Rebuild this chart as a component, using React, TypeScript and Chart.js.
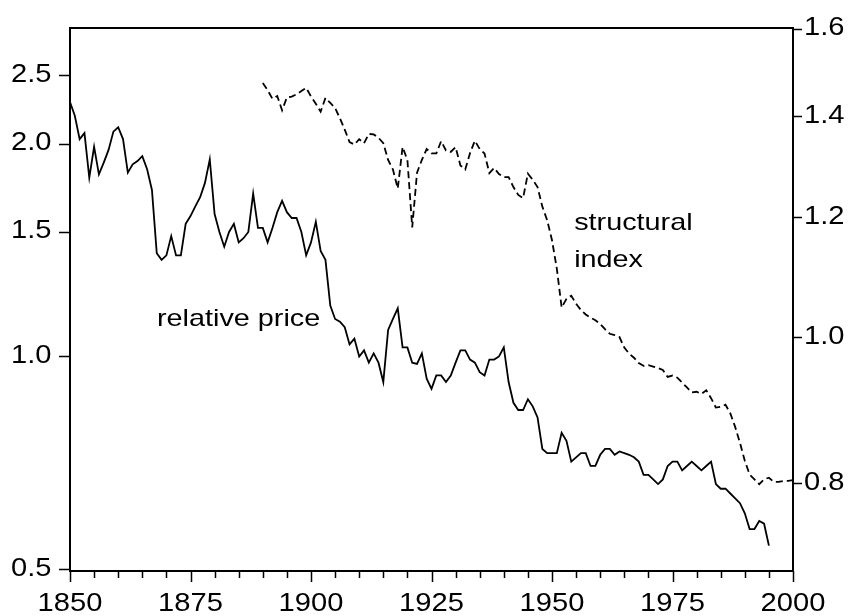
import React, { useEffect, useRef } from "react";
import { Chart, registerables } from "chart.js";

Chart.register(...registerables);

// ---- data ----
const priceStartYear = 1850;
const relativePrice = [
  2.29, 2.19, 2.03, 2.07, 1.79, 1.98, 1.81, 1.88, 1.96, 2.08, // 1850s
  2.11, 2.03, 1.82, 1.87, 1.89, 1.92, 1.84, 1.72, 1.40, 1.37, // 1860s
  1.39, 1.48, 1.39, 1.39, 1.54, 1.58, 1.63, 1.68, 1.76, 1.90, // 1870s
  1.59, 1.50, 1.43, 1.50, 1.54, 1.45, 1.47, 1.50, 1.70, 1.52, // 1880s
  1.52, 1.45, 1.52, 1.60, 1.66, 1.60, 1.57, 1.57, 1.50, 1.39, // 1890s
  1.45, 1.55, 1.41, 1.37, 1.18, 1.13, 1.12, 1.10, 1.04, 1.06, // 1900s
  1.00, 1.02, 0.98, 1.01, 0.98, 0.92, 1.09, 1.13, 1.17, 1.03, // 1910s
  1.03, 0.98, 0.976, 1.01, 0.93, 0.90, 0.94, 0.94, 0.92, 0.94, // 1920s
  0.98, 1.02, 1.02, 0.99, 0.98, 0.95, 0.94, 0.99, 0.99, 1.00, // 1930s
  1.03, 0.92, 0.86, 0.84, 0.84, 0.87, 0.85, 0.82, 0.74, 0.73, // 1940s
  0.73, 0.73, 0.78, 0.76, 0.71, 0.72, 0.73, 0.73, 0.70, 0.70, // 1950s
  0.726, 0.74, 0.74, 0.726, 0.734, 0.73, 0.726, 0.72, 0.71, 0.68, // 1960s
  0.68, 0.67, 0.66, 0.67, 0.70, 0.71, 0.71, 0.69, 0.70, 0.71, // 1970s
  0.70, 0.69, 0.70, 0.71, 0.66, 0.65, 0.65, 0.64, 0.63, 0.62, // 1980s
  0.60, 0.57, 0.57, 0.585, 0.58, 0.54, // 1990-1995
];

const indexStartYear = 1890;
const structuralIndex = [
  1.473, 1.457, 1.438, 1.444, 1.413, 1.441, 1.443, 1.448, 1.455, 1.462, // 1890s
  1.443, 1.427, 1.410, 1.440, 1.429, 1.418, 1.396, 1.372, 1.346, 1.341, // 1900s
  1.352, 1.344, 1.363, 1.362, 1.355, 1.344, 1.310, 1.291, 1.254, 1.336, // 1910s
  1.310, 1.182, 1.285, 1.310, 1.332, 1.323, 1.323, 1.348, 1.329, 1.326, // 1920s
  1.336, 1.299, 1.291, 1.324, 1.349, 1.332, 1.323, 1.284, 1.294, 1.282, // 1930s
  1.276, 1.276, 1.257, 1.242, 1.236, 1.283, 1.271, 1.257, 1.220, 1.195, // 1940s
  1.159, 1.110, 1.046, 1.060, 1.065, 1.052, 1.042, 1.035, 1.030, 1.026, // 1950s
  1.020, 1.012, 1.005, 1.003, 1.000, 0.984, 0.975, 0.969, 0.961, 0.957, // 1960s
  0.958, 0.956, 0.954, 0.951, 0.941, 0.943, 0.940, 0.933, 0.926, 0.919, // 1970s
  0.920, 0.917, 0.922, 0.911, 0.898, 0.899, 0.902, 0.890, 0.872, 0.851, // 1980s
  0.828, 0.811, 0.805, 0.799, 0.805, 0.807, 0.802, 0.802, 0.803, 0.803, // 1990s
  0.804, // 2000
];

const xMin = 1850;
const xMax = 2000;
const xLabelYears = [1850, 1875, 1900, 1925, 1950, 1975, 2000];
const xMinorStep = 5;
const leftTicks = [0.5, 1.0, 1.5, 2.0, 2.5];
const rightTicks = [0.8, 1.0, 1.2, 1.4, 1.6];
const leftRange = [0.4972, 2.915];
const rightRange = [0.7238, 1.6019];

const priceLabel = "relative price";
const indexLabelLines = ["structural", "index"];

const FONT = '"Liberation Sans", Arial, Helvetica, sans-serif';
const TICK_STRETCH = 1.12;
const NOTE_STRETCH = 1.2;

const framePlugin = {
  id: "frameAndTicks",
  afterDatasetsDraw(chart: any) {
    const { ctx, chartArea: a, scales } = chart;
    const sx = scales.x;
    const sl = scales.yLeft;
    const sr = scales.yRight;
    ctx.save();
    ctx.strokeStyle = "#000";
    ctx.lineWidth = 2;
    ctx.strokeRect(a.left, a.top, a.right - a.left, a.bottom - a.top);

    ctx.lineWidth = 1.5;
    ctx.beginPath();
    for (let yr = xMin; yr <= xMax; yr += xMinorStep) {
      const px = Math.round(sx.getPixelForValue(yr)) + 0.5;
      const len = xLabelYears.includes(yr) ? 11 : 7;
      ctx.moveTo(px, a.bottom);
      ctx.lineTo(px, a.bottom + len);
    }
    leftTicks.forEach((v) => {
      const py = Math.round(sl.getPixelForValue(v)) + 0.5;
      ctx.moveTo(a.left - 11, py);
      ctx.lineTo(a.left, py);
    });
    rightTicks.forEach((v) => {
      const py = Math.round(sr.getPixelForValue(v)) + 0.5;
      ctx.moveTo(a.right, py);
      ctx.lineTo(a.right + 9, py);
    });
    ctx.stroke();

    ctx.fillStyle = "#000";
    ctx.textBaseline = "alphabetic";
    const drawStretched = (t: string, x: number, y: number, k: number, align: string) => {
      ctx.save();
      ctx.translate(x, y);
      ctx.scale(k, 1);
      ctx.textAlign = align;
      ctx.fillText(t, 0, 0);
      ctx.restore();
    };

    // tick labels
    ctx.font = `26px ${FONT}`;
    xLabelYears.forEach((yr) => {
      drawStretched(String(yr), sx.getPixelForValue(yr), a.bottom + 40, TICK_STRETCH, "center");
    });
    leftTicks.forEach((v) => {
      drawStretched(v.toFixed(1), a.left - 18.5, sl.getPixelForValue(v) + 6.5, TICK_STRETCH, "right");
    });
    rightTicks.forEach((v) => {
      drawStretched(v.toFixed(1), a.right + 11, sr.getPixelForValue(v) + 6.5, TICK_STRETCH, "left");
    });

    // annotations
    ctx.font = `24px ${FONT}`;
    drawStretched(priceLabel, sx.getPixelForValue(1868.05), sl.getPixelForValue(1.104), NOTE_STRETCH, "left");
    drawStretched(indexLabelLines[0], sx.getPixelForValue(1954.6), sr.getPixelForValue(1.178), NOTE_STRETCH, "left");
    drawStretched(indexLabelLines[1], sx.getPixelForValue(1954.6), sr.getPixelForValue(1.113), NOTE_STRETCH, "left");
    ctx.restore();
  },
};

const zeroPad = (s: any) => {
  s.paddingTop = 0;
  s.paddingBottom = 0;
  s.paddingLeft = 0;
  s.paddingRight = 0;
};

export default function App() {
  const ref = useRef<HTMLCanvasElement | null>(null);

  useEffect(() => {
    if (!ref.current) return;
    const priceData = relativePrice.map((v, i) => ({ x: priceStartYear + i, y: v }));
    const indexData = structuralIndex.map((v, i) => ({ x: indexStartYear + i, y: v }));

    const chart = new Chart(ref.current, {
      type: "line",
      data: {
        datasets: [
          {
            label: "relative price",
            data: priceData,
            yAxisID: "yLeft",
            borderColor: "#000",
            borderWidth: 1.8,
            pointRadius: 0,
            tension: 0,
            fill: false,
          },
          {
            label: "structural index",
            data: indexData,
            yAxisID: "yRight",
            borderColor: "#000",
            borderWidth: 1.8,
            borderDash: [7, 4],
            pointRadius: 0,
            tension: 0,
            fill: false,
          },
        ],
      },
      options: {
        animation: false,
        responsive: false,
        maintainAspectRatio: false,
        parsing: false as any,
        layout: { padding: { top: 28, left: 0, right: 0, bottom: 0 } },
        plugins: {
          legend: { display: false },
          tooltip: { enabled: false },
        },
        scales: {
          x: {
            type: "linear",
            min: xMin,
            max: xMax,
            grid: { display: false, drawTicks: false },
            border: { display: false },
            afterBuildTicks: (s: any) => {
              s.ticks = xLabelYears.map((v) => ({ value: v }));
            },
            afterFit: (s: any) => {
              s.height = 45;
              zeroPad(s);
            },
            ticks: { display: false },
          },
          yLeft: {
            type: "logarithmic",
            position: "left",
            min: leftRange[0],
            max: leftRange[1],
            grid: { display: false, drawTicks: false },
            border: { display: false },
            afterBuildTicks: (s: any) => {
              s.ticks = leftTicks.map((v) => ({ value: v }));
            },
            afterFit: (s: any) => {
              s.width = 70;
              zeroPad(s);
            },
            ticks: { display: false },
          },
          yRight: {
            type: "logarithmic",
            position: "right",
            min: rightRange[0],
            max: rightRange[1],
            grid: { display: false, drawTicks: false },
            border: { display: false },
            afterBuildTicks: (s: any) => {
              s.ticks = rightTicks.map((v) => ({ value: v }));
            },
            afterFit: (s: any) => {
              s.width = 63;
              zeroPad(s);
            },
            ticks: { display: false },
          },
        },
      } as any,
      plugins: [framePlugin],
    });
    return () => chart.destroy();
  }, []);

  return (
    <div style={{ position: "absolute", left: 0, top: 0, width: 856, height: 616, background: "#fff" }}>
      <canvas ref={ref} width={856} height={616} style={{ display: "block", width: 856, height: 616 }} />
    </div>
  );
}
